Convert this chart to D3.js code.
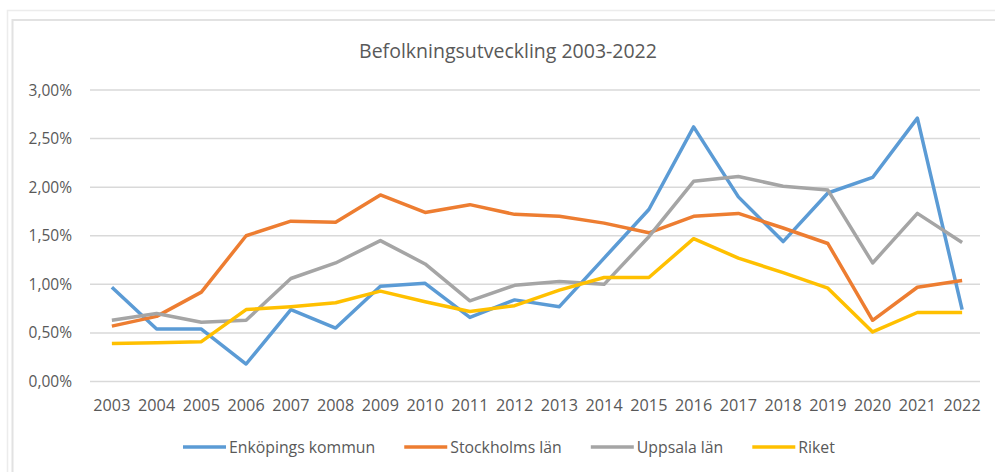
<!DOCTYPE html>
<meta charset="utf-8">
<script src="https://d3js.org/d3.v7.min.js"></script>
<style>
body { margin: 0; background: #fff; }
#chart { font-family: "Open Sans", sans-serif; }
</style>
<div id="chart"></div>
<script>
// values, percent growth per year
var years = ["2003","2004","2005","2006","2007","2008","2009","2010","2011","2012",
             "2013","2014","2015","2016","2017","2018","2019","2020","2021","2022"];
var enkoping  = [0.97,0.54,0.54,0.18,0.74,0.55,0.98,1.01,0.66,0.84,0.77,1.27,1.77,2.62,1.90,1.44,1.94,2.10,2.71,0.74];
var stockholm = [0.57,0.67,0.92,1.50,1.65,1.64,1.92,1.74,1.82,1.72,1.70,1.63,1.53,1.70,1.73,1.58,1.42,0.63,0.97,1.04];
var uppsala   = [0.63,0.70,0.61,0.63,1.06,1.22,1.45,1.21,0.83,0.99,1.03,1.00,1.49,2.06,2.11,2.01,1.97,1.22,1.73,1.43];
var riket     = [0.39,0.40,0.41,0.74,0.77,0.81,0.93,0.82,0.72,0.78,0.94,1.07,1.07,1.47,1.27,1.12,0.96,0.51,0.71,0.71];
var seriesNames = ["Enköpings kommun", "Stockholms län", "Uppsala län", "Riket"];
var yTicks = [0, 0.5, 1, 1.5, 2, 2.5, 3];
var title = "Befolkningsutveckling 2003-2022";

var colors = ["#5B9BD5", "#ED7D31", "#A5A5A5", "#FFC000"];
var series = [enkoping, stockholm, uppsala, riket];

var W = 995, H = 472;
var svg = d3.select("#chart").append("svg")
    .attr("width", W)
    .attr("height", H);

// frame lines (screenshot of a chart box)
svg.append("path")
    .attr("d", "M7.5,472 V10.5 H995")
    .attr("fill", "none").attr("stroke", "#ececec").attr("stroke-width", 1.5);
svg.append("path")
    .attr("d", "M12.5,472 V20 H995")
    .attr("fill", "none").attr("stroke", "#e2e2e2").attr("stroke-width", 2);

var x = d3.scaleBand()
    .domain(years)
    .range([89.5, 984.5]);

var y = d3.scaleLinear()
    .domain([0, 3])
    .range([381.5, 90]);

// gridlines
svg.append("g")
  .selectAll("line")
  .data(yTicks)
  .enter()
  .append("line")
    .attr("x1", 90)
    .attr("x2", 980)
    .attr("y1", function(d) { return y(d); })
    .attr("y2", function(d) { return y(d); })
    .attr("stroke", "#d9d9d9")
    .attr("stroke-width", 1.5);

// y labels
var fmt = function(d) { return d.toFixed(2).replace(".", ",") + "%"; };
svg.append("g")
  .selectAll("text")
  .data(yTicks)
  .enter()
  .append("text")
    .attr("x", 72)
    .attr("y", function(d) { return y(d); })
    .attr("dy", "0.36em")
    .attr("text-anchor", "end")
    .attr("font-size", "15.5px")
    .attr("fill", "#595959")
    .text(fmt);

// x labels
svg.append("g")
  .selectAll("text")
  .data(years)
  .enter()
  .append("text")
    .attr("x", function(d) { return x(d) + x.bandwidth() / 2; })
    .attr("y", 410.5)
    .attr("text-anchor", "middle")
    .attr("font-size", "16.2px")
    .attr("fill", "#595959")
    .text(function(d) { return d; });

// title
svg.append("text")
    .attr("x", 508)
    .attr("y", 58)
    .attr("text-anchor", "middle")
    .attr("font-size", "19.5px")
    .attr("fill", "#595959")
    .text(title);

// lines
var line = d3.line()
    .x(function(d, i) { return x(years[i]) + x.bandwidth() / 2; })
    .y(function(d) { return y(d); });

series.forEach(function(s, k) {
  svg.append("path")
      .datum(s)
      .attr("d", line)
      .attr("fill", "none")
      .attr("stroke", colors[k])
      .attr("stroke-width", 3.5)
      .attr("stroke-linejoin", "round");
});

// legend
var legend = svg.append("g");
var lx = 0;
seriesNames.forEach(function(name, k) {
  var g = legend.append("g").attr("transform", "translate(" + lx + ",0)");
  g.append("line")
      .attr("x1", 0).attr("x2", 43)
      .attr("y1", 0).attr("y2", 0)
      .attr("stroke", colors[k])
      .attr("stroke-width", 3.5);
  var t = g.append("text")
      .attr("x", 46)
      .attr("dy", "0.36em")
      .attr("font-size", "15.8px")
      .attr("fill", "#595959")
      .text(name);
  lx += 46 + t.node().getComputedTextLength() + 29;
});
var legendW = lx - 29;
legend.attr("transform", "translate(" + (183) + ",447)");
</script>
